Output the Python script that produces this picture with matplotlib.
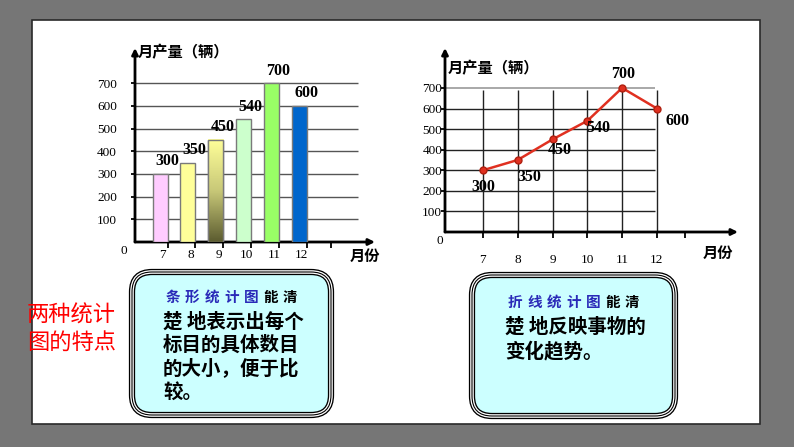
import matplotlib
matplotlib.use('Agg')
import matplotlib.pyplot as plt
import numpy as np
from matplotlib.patches import Rectangle, FancyBboxPatch

# data
months = ['7', '8', '9', '10', '11', '12']
output = [300, 350, 450, 540, 700, 600]
yticks = [100, 200, 300, 400, 500, 600, 700]
bar_colors = ['#ffccff', '#ffff99', '#ffff99', '#ccffcc', '#99ff66', '#0066cc']

ylabel = '月产量（辆）'
xlabel = '月份'
side_title = ['两种统计', '图的特点']
bar_note = [('条形统计图', '能清'), '楚 地表示出每个', '标目的具体数目', '的大小，便于比', '较。']
line_note = [('折线统计图', '能清'), '楚 地反映事物的', '变化趋势。']

CJK = ['Noto Sans CJK SC', 'DejaVu Sans']
SERIF = ['Liberation Serif', 'DejaVu Serif']

W, H = 794, 447
fig = plt.figure(figsize=(W / 100, H / 100), dpi=100)
fig.patch.set_facecolor('#767676')


def fig_rect(x0, y0, x1, y1):
    # pixel box (top-left origin) -> figure fraction
    return [x0 / W, 1 - y1 / H, (x1 - x0) / W, (y1 - y0) / H]


# slide background
bg = fig.add_axes([0, 0, 1, 1])
bg.set_xlim(0, W)
bg.set_ylim(H, 0)
bg.axis('off')
bg.add_patch(Rectangle((32, 20), 728, 404, facecolor='white', edgecolor='#2a2a2a', lw=1.2))


def axis_arrows(ax):
    for s in ax.spines.values():
        s.set_visible(False)
    ap = dict(arrowstyle='-|>', lw=2, color='black', mutation_scale=9, shrinkA=0, shrinkB=0)
    ax.annotate('', xy=(1, 0), xytext=(0, 0), xycoords='axes fraction', arrowprops=ap)
    ax.annotate('', xy=(0, 1), xytext=(0, 0), xycoords='axes fraction', arrowprops=ap)


# ---------- bar chart ----------
ax1 = fig.add_axes(fig_rect(135, 48, 375, 242))
ax1.patch.set_alpha(0)
x = np.arange(len(months))
ax1.set_xlim(-0.9, 7.73)
ax1.set_ylim(0, 855)
axis_arrows(ax1)
ax1.hlines(yticks, -0.9, 7.12, colors='#555555', lw=1, zorder=1)

bars = ax1.bar(x, output, width=0.54, color=bar_colors, edgecolor='#7a7a7a', lw=1, zorder=3)
# gradient on the September bar
b = bars[2]
grad = np.linspace(0, 1, 100).reshape(-1, 1)
ax1.imshow(grad, extent=(b.get_x(), b.get_x() + b.get_width(), 0, b.get_height()),
           cmap=matplotlib.colors.LinearSegmentedColormap.from_list('g', ['#5c5c30', '#c8c878', '#ffff99']),
           origin='lower', aspect='auto', zorder=3.5)
ax1.bar(x[2], output[2], width=0.54, color='none', edgecolor='#7a7a7a', lw=1, zorder=4)
ax1.set_xlim(-0.9, 7.73)
ax1.set_ylim(0, 855)

for xi, v in zip(x, output):
    ax1.annotate(str(v), (xi, v), xytext=(5, 9), textcoords='offset points', ha='center',
                 va='center', fontsize=11.5, fontweight='bold', family=SERIF, zorder=2)

ax1.set_xticks(x + 0.1)
ax1.set_xticklabels(months, family=SERIF, fontsize=9.5)
ax1.set_xticks(list(x + 0.27) + [6.15], minor=True)
ax1.tick_params(axis='x', which='major', length=0, pad=5)
ax1.tick_params(axis='x', which='minor', length=4, width=1.3, direction='out')
ax1.set_yticks(yticks)
ax1.set_yticklabels([str(t) for t in yticks], family=SERIF, fontsize=9.5)
ax1.tick_params(axis='y', length=3, width=1.3, pad=10)
ax1.text(0.012, 0.98, ylabel, transform=ax1.transAxes, ha='left', va='center',
         fontsize=11, fontweight='bold', family=CJK)
ax1.text(-1.32, -12, '0', ha='center', va='top', family=SERIF, fontsize=9.5)
ax1.text(7.9, -60, xlabel, ha='right', va='center', fontsize=11, fontweight='bold', family=CJK,
         clip_on=False)

# ---------- line chart ----------
ax2 = fig.add_axes(fig_rect(445, 48, 738, 232))
ax2.patch.set_alpha(0)
ax2.set_xlim(-1.09, 7.33)
ax2.set_ylim(0, 894)
axis_arrows(ax2)
ax2.hlines(yticks[:-1], -1.09, 4.94, colors='#222222', lw=1, zorder=1)
ax2.hlines(yticks[-1], -1.09, 4.94, colors='#999999', lw=1.2, zorder=1)
ax2.vlines(x, 0, 690, colors='#222222', lw=1, zorder=1)
ax2.plot(x, output, color='#e03020', lw=1.8, marker='o', ms=5, mfc='#e03020', mec='#b02010', zorder=3)

offsets = [(0, -12), (8, -12), (5, -8), (8, -5), (1, 10), (15, -9)]
for xi, v, off in zip(x, output, offsets):
    ax2.annotate(str(v), (xi, v), xytext=off, textcoords='offset points', ha='center',
                 va='center', fontsize=11.5, fontweight='bold', family=SERIF, zorder=4)

ax2.set_xticks(x)
ax2.set_xticklabels(months, family=SERIF, fontsize=9.5)
ax2.set_xticks([5.8], minor=True)
ax2.tick_params(axis='x', which='both', length=4, width=1.3, pad=12)
ax2.set_yticks(yticks)
ax2.set_yticklabels([str(t) for t in yticks], family=SERIF, fontsize=9.5)
ax2.tick_params(axis='y', length=3, width=1.3, pad=-1)
ax2.text(0.01, 0.89, ylabel, transform=ax2.transAxes, ha='left', va='center',
         fontsize=11, fontweight='bold', family=CJK)
ax2.text(-1.25, -45, '0', ha='center', va='center', family=SERIF, fontsize=9.5)
ax2.text(7.2, -100, xlabel, ha='right', va='center', fontsize=11, fontweight='bold', family=CJK,
         clip_on=False)


# ---------- notes ----------
def note_box(x0, y0, x1, y1):
    kw = dict(boxstyle='round,pad=0,rounding_size=20')
    bg.add_patch(FancyBboxPatch((x0, y0), x1 - x0, y1 - y0, facecolor='#ccffff',
                                edgecolor='black', lw=4.5, **kw))
    bg.add_patch(FancyBboxPatch((x0, y0), x1 - x0, y1 - y0, facecolor='none',
                                edgecolor='white', lw=2.6, **kw))
    bg.add_patch(FancyBboxPatch((x0, y0), x1 - x0, y1 - y0, facecolor='none',
                                edgecolor='black', lw=0.8, **kw))


def note_text(lines, x0, y0, dy):
    pitch = 19.6
    blue, black = lines[0]
    for i, ch in enumerate(blue + black):
        bg.text(x0 + pitch * i + pitch / 2, y0, ch, ha='center', va='center', fontsize=10.5,
                fontweight='bold', family=CJK, color='#2a2ab8' if i < len(blue) else 'black')
    for j, line in enumerate(lines[1:]):
        bg.text(x0, y0 + 25 + dy * j, line, ha='left', va='center', fontsize=14,
                fontweight='bold', family=CJK, color='black')


note_box(132, 272, 331, 415)
note_text(bar_note, 163, 297, 23.3)
note_box(472, 275, 675, 416)
note_text(line_note, 505, 302, 24.5)

for j, line in enumerate(side_title):
    bg.text(27, 315 + 27 * j, line, ha='left', va='center', fontsize=16, color='#ff0000', family=CJK)

fig.savefig('out.png', dpi=100, facecolor=fig.get_facecolor())
